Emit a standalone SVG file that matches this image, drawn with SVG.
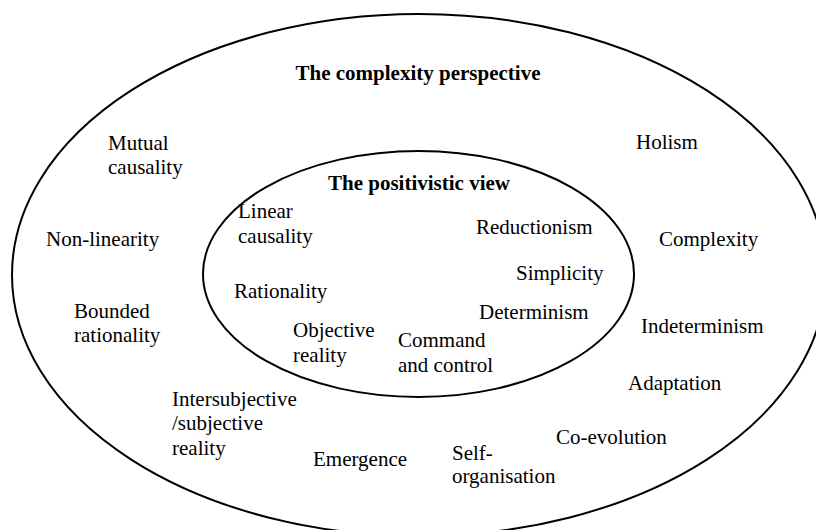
<svg xmlns="http://www.w3.org/2000/svg" width="816" height="530" viewBox="0 0 816 530">
<style>
.e{fill:none;stroke:#000;stroke-width:2}
text{font-family:"Liberation Serif","Times New Roman",serif;font-size:21px;fill:#000}
.b{font-weight:bold}
</style>
<rect width="816" height="530" fill="#fff"/>
<g id="complexity">
<ellipse class="e" cx="419" cy="275" rx="407" ry="261"/>
<text class="b" x="418" y="80" text-anchor="middle">The complexity perspective</text>
</g>
<g id="positivistic">
<ellipse class="e" cx="418.5" cy="274" rx="215.5" ry="123"/>
<text class="b" x="419" y="190" text-anchor="middle">The positivistic view</text>
</g>
<g id="linear-causality"><text x="238" y="218">Linear</text><text x="238" y="243">causality</text></g>
<g id="reductionism"><text x="476" y="234">Reductionism</text></g>
<g id="simplicity"><text x="516" y="280">Simplicity</text></g>
<g id="rationality"><text x="234" y="298">Rationality</text></g>
<g id="determinism"><text x="479" y="319">Determinism</text></g>
<g id="objective-reality"><text x="293" y="337">Objective</text><text x="293" y="362">reality</text></g>
<g id="command-control"><text x="398" y="347">Command</text><text x="398" y="372">and control</text></g>
<g id="mutual-causality"><text x="108" y="150">Mutual</text><text x="108" y="174">causality</text></g>
<g id="holism"><text x="636" y="149">Holism</text></g>
<g id="non-linearity"><text x="46" y="246">Non-linearity</text></g>
<g id="complexity-term"><text x="659" y="246">Complexity</text></g>
<g id="bounded-rationality"><text x="74" y="318">Bounded</text><text x="74" y="342">rationality</text></g>
<g id="indeterminism"><text x="641" y="333">Indeterminism</text></g>
<g id="adaptation"><text x="628" y="390">Adaptation</text></g>
<g id="intersubjective"><text x="172" y="406">Intersubjective</text><text x="172" y="430">/subjective</text><text x="172" y="455">reality</text></g>
<g id="co-evolution"><text x="556" y="444">Co-evolution</text></g>
<g id="emergence"><text x="313" y="466">Emergence</text></g>
<g id="self-organisation"><text x="452" y="460">Self-</text><text x="452" y="483">organisation</text></g>
</svg>
